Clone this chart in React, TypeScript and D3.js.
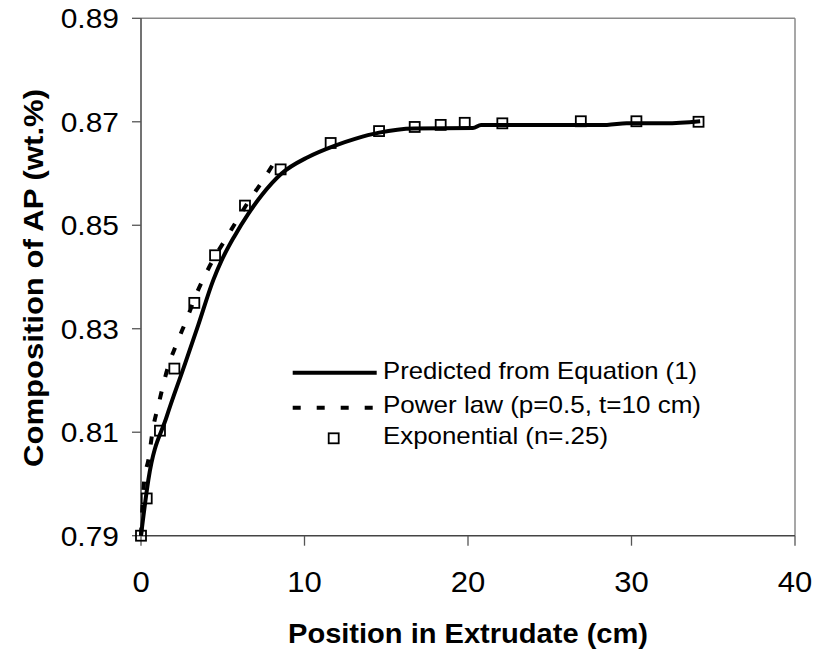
import React from "react";
import * as d3 from "d3";

// Predicted composition profile from Equation (1): [position cm, wt. fraction]
const predictedX = [0, 0.45, 1.57, 2.6, 3.5, 4.42, 4.93, 5.7, 6.56, 7.38, 8.6, 10.23, 11.87, 13.09, 14.56, 16.7, 20.3, 20.8, 28.5, 29.7, 32.1, 34.2];
const predictedY = [0.79, 0.8008, 0.813, 0.8224, 0.8307, 0.8394, 0.8432, 0.8478, 0.8522, 0.8558, 0.86, 0.8632, 0.8654, 0.8667, 0.8679, 0.8687, 0.8688, 0.8694, 0.8694, 0.8697, 0.8697, 0.8701];

// Power-law fit (p = 0.5, t = 10 cm)
const powerX = [0, 0.2, 0.45, 0.75, 1.06, 1.67, 2.18, 2.79, 3.4, 4.12, 5.44, 6.56, 7.38, 8.3];
const powerY = [0.79, 0.8008, 0.8046, 0.811, 0.8152, 0.8228, 0.8271, 0.8318, 0.8368, 0.8416, 0.8487, 0.8545, 0.8583, 0.8629];

// Exponential fit (n = .25)
const expX = [0, 0.35, 1.16, 2.04, 3.26, 4.53, 6.36, 8.54, 11.6, 14.56, 16.74, 18.33, 19.8, 22.1, 26.9, 30.3, 34.1];
const expY = [0.79, 0.7972, 0.8103, 0.8223, 0.835, 0.8442, 0.8538, 0.8608, 0.8659, 0.8682, 0.869, 0.8694, 0.8698, 0.8697, 0.8701, 0.8701, 0.87];

const xTicks = [0, 10, 20, 30, 40];
const yTicks = [0.79, 0.81, 0.83, 0.85, 0.87, 0.89];

const legendLabels = ["Predicted from Equation (1)", "Power law (p=0.5, t=10 cm)", "Exponential (n=.25)"];

const W = 816;
const H = 655;
const left = 141;
const right = 795;
const top = 18.3;
const bottom = 535.7;

const FONT = "'Liberation Sans', Arial, Helvetica, sans-serif";

export default function App() {
  const x = d3.scaleLinear().domain([0, 40]).range([left, right]);
  const y = d3.scaleLinear().domain([0.79, 0.89]).range([bottom, top]);

  const line = d3
    .line<[number, number]>()
    .x((d) => x(d[0]))
    .y((d) => y(d[1]))
    .curve(d3.curveMonotoneX);

  const predicted = predictedX.map((v, i) => [v, predictedY[i]] as [number, number]);
  const power = powerX.map((v, i) => [v, powerY[i]] as [number, number]);
  const expPts = expX.map((v, i) => [v, expY[i]] as [number, number]);

  const sq = 10;
  const dash = "8 15";

  const legendX0 = 292.7;
  const legendX1 = 376.7;
  const legendTextX = 383;
  const legendRows = [372.7, 407.7, 438.3];
  const legendBaselines = [379.3, 412.7, 444];
  const legendWidths = [314, 318, 225];

  return (
    <svg
      width={W}
      height={H}
      style={{ position: "absolute", left: 0, top: 0, background: "#fff" }}
      fontFamily={FONT}
    >
      <rect x={0} y={0} width={W} height={H} fill="#fff" />

      {/* plot frame */}
      <line x1={left} x2={right} y1={top} y2={top} stroke="#8a8a8a" strokeWidth={1.5} />
      <line x1={right} x2={right} y1={top} y2={bottom} stroke="#8a8a8a" strokeWidth={1.5} />
      <line x1={left} x2={left} y1={top} y2={bottom} stroke="#444" strokeWidth={1.5} />
      <line x1={left} x2={right} y1={bottom} y2={bottom} stroke="#444" strokeWidth={1.5} />

      {/* y axis ticks and labels */}
      {yTicks.map((t) => (
        <g key={"y" + t}>
          <line x1={left - 9} x2={left} y1={y(t)} y2={y(t)} stroke="#555" strokeWidth={1.3} />
          <g transform={`translate(119,${y(t) + 10}) scale(1.07,1)`}>
            <text x={0} y={0} textAnchor="end" fontSize={28} fill="#000">
              {t.toFixed(2)}
            </text>
          </g>
        </g>
      ))}

      {/* x axis ticks and labels */}
      {xTicks.map((t) => (
        <g key={"x" + t}>
          <line x1={x(t)} x2={x(t)} y1={bottom} y2={bottom + 10} stroke="#555" strokeWidth={1.3} />
          <g transform={`translate(${x(t)},591.5) scale(1.07,1)`}>
            <text x={0} y={0} textAnchor="middle" fontSize={29} fill="#000">
              {t}
            </text>
          </g>
        </g>
      ))}

      {/* axis titles */}
      <text
        x={468}
        y={643}
        textAnchor="middle"
        fontSize={28}
        fontWeight="bold"
        textLength={360}
        lengthAdjust="spacingAndGlyphs"
      >
        Position in Extrudate (cm)
      </text>
      <text
        transform="translate(43,278) rotate(-90)"
        x={0}
        y={0}
        textAnchor="middle"
        fontSize={28}
        fontWeight="bold"
        textLength={378}
        lengthAdjust="spacingAndGlyphs"
      >
        Composition of AP (wt.%)
      </text>

      {/* series */}
      <path d={line(predicted) || ""} fill="none" stroke="#000" strokeWidth={4} strokeLinejoin="round" />
      <path d={line(power) || ""} fill="none" stroke="#000" strokeWidth={4} strokeDasharray={dash} />
      {expPts.map((d, i) => (
        <rect
          key={"e" + i}
          x={x(d[0]) - sq / 2}
          y={y(d[1]) - sq / 2}
          width={sq}
          height={sq}
          fill="none"
          stroke="#000"
          strokeWidth={1.8}
        />
      ))}

      {/* legend */}
      <line x1={legendX0} x2={legendX1} y1={legendRows[0]} y2={legendRows[0]} stroke="#000" strokeWidth={4} />
      <line
        x1={legendX0}
        x2={legendX1}
        y1={legendRows[1]}
        y2={legendRows[1]}
        stroke="#000"
        strokeWidth={4}
        strokeDasharray="8 16"
      />
      <rect
        x={(legendX0 + legendX1) / 2 - sq / 2 - 1}
        y={legendRows[2] - sq / 2}
        width={sq}
        height={sq}
        fill="none"
        stroke="#000"
        strokeWidth={1.8}
      />
      {legendLabels.map((s, i) => (
        <text
          key={s}
          x={legendTextX}
          y={legendBaselines[i]}
          fontSize={24}
          textLength={legendWidths[i]}
          lengthAdjust="spacingAndGlyphs"
          fill="#000"
        >
          {s}
        </text>
      ))}
    </svg>
  );
}
